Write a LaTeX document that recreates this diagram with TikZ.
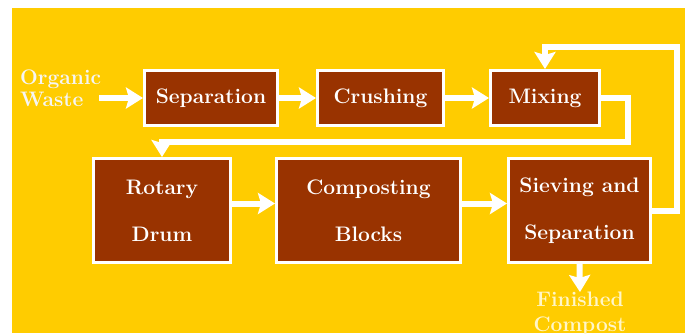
\documentclass[tikz,border=0pt]{standalone}
\usepackage{fontspec}
\usetikzlibrary{arrows.meta}
\definecolor{bgyellow}{HTML}{FFCC00}
\definecolor{boxbrown}{HTML}{993300}
\definecolor{cream}{HTML}{FFF6C8}
\begin{document}
\begin{tikzpicture}[x=1pt,y=-1pt,
  stepbox/.style={draw=white,line width=3pt,fill=boxbrown,text=white,
    font=\bfseries\fontsize{21}{47}\selectfont,align=center,inner sep=0pt},
  flow/.style={draw=white,line width=6pt,
    -{Stealth[length=17pt,width=21pt,inset=3pt]}},
  plain/.style={text=white,font=\bfseries\fontsize{21}{22}\selectfont,align=left,inner sep=0pt}]
\useasboundingbox (0,0) rectangle (690,333);
\fill[white] (0,0) rectangle (690,333);
\fill[bgyellow] (12,8) rectangle (685,333);
% boxes
\node[stepbox,minimum width=133pt,minimum height=55pt] (sep) at (211,98) {Separation};
\node[stepbox,minimum width=126pt,minimum height=55pt] (cru) at (380.5,98) {Crushing};
\node[stepbox,minimum width=109pt,minimum height=55pt] (mix) at (545,98) {Mixing};
\node[stepbox,minimum width=137pt,minimum height=104pt] (rot) at (162,210.5) {Rotary\\Drum};
\node[stepbox,minimum width=184pt,minimum height=104pt] (com) at (368.5,210.5) {Composting\\Blocks};
\node[stepbox,minimum width=142pt,minimum height=104pt] (sie) at (579.5,210.5) {Sieving and\\Separation};
% texts
\node[plain,text=gray!8,anchor=north west] (ow) at (20,70) {Organic\\Waste};
\node[plain,text=cream,align=center,anchor=north,font=\bfseries\fontsize{21}{25}\selectfont] (fc) at (580,292) {Finished\\Compost};
\coordinate (owout) at (99,98);
% connectors
\draw[flow] (owout) -- (sep.west);
\draw[flow] (sep.east) -- (cru.west);
\draw[flow] (cru.east) -- (mix.west);
\draw[flow] (mix.east) -| (628,142) -| (rot.north);
\draw[flow] ([yshift=7pt]rot.east) -- ([yshift=7pt]com.west);
\draw[flow] ([yshift=7pt]com.east) -- ([yshift=7pt]sie.west);
\draw[flow] (sie.east) -| (677,47) -| (mix.north);
\draw[flow] (sie.south) -- (fc.north);
\end{tikzpicture}
\end{document}
